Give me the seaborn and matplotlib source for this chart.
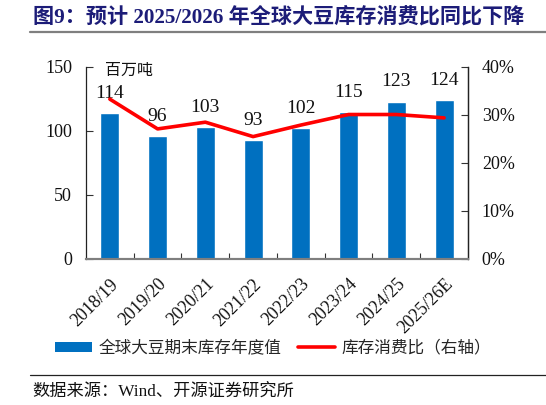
import numpy as np
import pandas as pd
import matplotlib
matplotlib.use("Agg")
import matplotlib.pyplot as plt
import seaborn as sns
from matplotlib.patches import Patch
from matplotlib.lines import Line2D

# data
seasons = ["2018/19", "2019/20", "2020/21", "2021/22", "2022/23", "2023/24", "2024/25", "2025/26E"]
stocks = [114, 96, 103, 93, 102, 115, 123, 124]          # 百万吨
stock_use_ratio = [33.3, 27.1, 28.5, 25.5, 27.9, 30.1, 30.1, 29.4]  # %

sns.set_theme(style="white")
plt.rcParams["font.family"] = ["Liberation Serif", "Noto Sans CJK SC", "DejaVu Sans"]
cjk = ["Noto Sans CJK SC", "DejaVu Sans"]
serif = ["Liberation Serif", "Noto Sans CJK SC"]

df = pd.DataFrame({"season": seasons, "stocks": stocks, "ratio": stock_use_ratio})

fig = plt.figure(figsize=(5.46, 4.05), dpi=100)
ax = fig.add_axes([0.1575, 0.3605, 0.6995, 0.4741])

bar_color = "#0070C0"
sns.barplot(data=df, x="season", y="stocks", color=bar_color, width=0.4,
            saturation=1, ax=ax)
ax.bar_label(ax.containers[0], labels=[str(v) for v in stocks], padding=8,
             fontsize=14, family=serif, color="#111111")
ax.set_ylim(0, 150)
ax.set_yticks([0, 50, 100, 150])
ax.set_xlim(-0.5, len(seasons) - 0.5)
ax.set_xlabel("")
ax.set_ylabel("")

ax2 = ax.twinx()
sns.lineplot(x=df.index, y=df["ratio"], color="#FF0000", linewidth=2.6, ax=ax2)
ax2.set_ylim(0, 40)
ax2.set_yticks([0, 10, 20, 30, 40])
ax2.set_yticklabels([f"{t}%" for t in [0, 10, 20, 30, 40]])
ax2.set_ylabel("")
ax2.set_xlim(-0.5, len(seasons) - 0.5)

# x ticks between categories, labels at centers
ax.set_xticks(np.arange(len(seasons)))
ax.set_xticklabels(seasons, rotation=45, ha="right", rotation_mode="anchor",
                   fontsize=13, family=serif, color="#111111")
ax.set_xticks(np.arange(len(seasons) - 1) + 0.5, minor=True)
ax.tick_params(axis="x", which="major", length=0, pad=12)
ax.tick_params(axis="x", which="minor", direction="in", length=4, width=0.8,
               color="#333333", bottom=True)
ax.tick_params(axis="y", direction="in", length=5, width=0.8, color="#333333",
               labelsize=13, pad=10, left=True)
ax2.tick_params(axis="y", direction="in", length=5, width=0.8, color="#333333",
                labelsize=13, pad=10, right=True)
for lab in ax.get_yticklabels() + ax2.get_yticklabels():
    lab.set_family(serif)
    lab.set_color("#111111")

for a in (ax, ax2):
    a.spines["top"].set_visible(False)
    a.spines["left"].set_color("#222222")
    a.spines["right"].set_color("#222222")
    a.spines["bottom"].set_color("#7f7f7f")
    a.spines["bottom"].set_linewidth(1.5)
    a.spines["left"].set_linewidth(0.9)
    a.spines["right"].set_linewidth(0.9)
ax2.spines["left"].set_visible(False)

ax.text(0.05, 0.98, "百万吨", transform=ax.transAxes, fontsize=11.5,
        family=cjk, va="center", ha="left", color="#111111")

# title and rules
fig.text(0.06, 0.957, "图9：预计 2025/2026 年全球大豆库存消费比同比下降",
         fontsize=15.2, fontweight="bold", color="#1c1c78", family=serif,
         va="center", ha="left")
fig.add_artist(Line2D([0.055, 1.0], [0.92, 0.92], color="#7f7f7f", linewidth=1.6))
fig.add_artist(Line2D([0.055, 1.0], [0.074, 0.074], color="#222222", linewidth=0.9))
fig.text(0.06, 0.03, "数据来源：Wind、开源证券研究所", fontsize=12.4, family=serif,
         va="center", ha="left", color="#111111")

handles = [Patch(facecolor=bar_color, edgecolor="none"),
           Line2D([], [], color="#FF0000", linewidth=2.6)]
fig.legend(handles, ["全球大豆期末库存年度值", "库存消费比（右轴）"],
           loc="center", bbox_to_anchor=(0.5, 0.14), ncol=2, frameon=False,
           prop={"family": cjk, "size": 12}, handlelength=2.2, handleheight=0.5,
           handletextpad=0.4, columnspacing=1.0)

fig.savefig("out.png", dpi=100)
